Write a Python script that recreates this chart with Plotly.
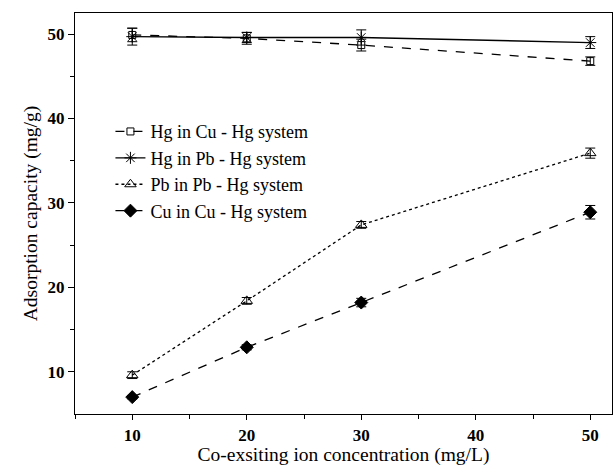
import plotly.graph_objects as go

# Co-existing ion concentration (mg/L)
conc = [10, 20, 30, 50]

# Adsorption capacity (mg/g) and standard deviations
hg_cu = [49.9, 49.5, 48.7, 46.8]
hg_cu_err = [0.8, 0.7, 0.7, 0.5]
hg_pb = [49.7, 49.6, 49.6, 49.0]
hg_pb_err = [1.0, 0.6, 0.9, 0.7]
pb_pb = [9.6, 18.4, 27.4, 35.9]
pb_pb_err = [0.4, 0.4, 0.4, 0.6]
cu_cu = [7.0, 12.9, 18.2, 28.9]
cu_cu_err = [0.2, 0.3, 0.5, 0.8]

series = [
    ("Hg in Cu - Hg system", hg_cu, hg_cu_err, "dash", "square-open", 7),
    ("Hg in Pb - Hg system", hg_pb, hg_pb_err, "solid", "asterisk-open", 10),
    ("Pb in Pb - Hg system", pb_pb, pb_pb_err, "dot", "triangle-up-open", 10),
    ("Cu in Cu - Hg system", cu_cu, cu_cu_err, "dash", "diamond", 10),
]

fig = go.Figure()
for name, ys, errs, dash, symbol, size in series:
    fig.add_trace(go.Scatter(
        x=conc, y=ys, name=name, mode="lines+markers",
        line=dict(color="black", width=1.3, dash=dash),
        marker=dict(symbol=symbol, size=size, color="black",
                    line=dict(color="black", width=1)),
        error_y=dict(type="data", array=errs, visible=True,
                     color="black", thickness=1, width=5),
    ))

axis_font = dict(family="Liberation Serif", size=19.5, color="black")
tick_font = dict(family="Liberation Serif", size=17, color="black", weight="bold")

fig.update_layout(
    width=614, height=466,
    margin=dict(l=75, r=2, t=13, b=52),
    paper_bgcolor="white", plot_bgcolor="white",
    showlegend=True,
    legend=dict(x=0.066, y=0.75, xanchor="left", yanchor="top",
                bgcolor="rgba(0,0,0,0)", tracegroupgap=0,
                font=dict(family="Liberation Serif", size=18, color="black")),
)
fig.update_xaxes(
    range=[5, 51.9], tickvals=[10, 20, 30, 40, 50],
    ticks="outside", ticklen=5, tickwidth=1.3, tickcolor="black",
    minor=dict(tickvals=[5, 15, 25, 35, 45], ticks="outside", ticklen=4,
               tickcolor="black", tickwidth=1.3),
    showline=True, linecolor="black", linewidth=1.3, mirror=True,
    showgrid=False, zeroline=False, tickfont=tick_font,
    title=dict(text="Co-exsiting ion concentration (mg/L)", font=axis_font,
               standoff=5),
)
fig.update_yaxes(
    range=[5, 52.5], tickvals=[10, 20, 30, 40, 50],
    ticks="outside", ticklen=6, tickwidth=1.3, tickcolor="black",
    minor=dict(tickvals=[15, 25, 35, 45], ticks="outside", ticklen=4,
               tickcolor="black", tickwidth=1.3),
    showline=True, linecolor="black", linewidth=1.3, mirror=True,
    showgrid=False, zeroline=False, tickfont=tick_font,
    title=dict(text="Adsorption capacity (mg/g)", font=axis_font, standoff=4),
)

fig.write_html("out.html")
